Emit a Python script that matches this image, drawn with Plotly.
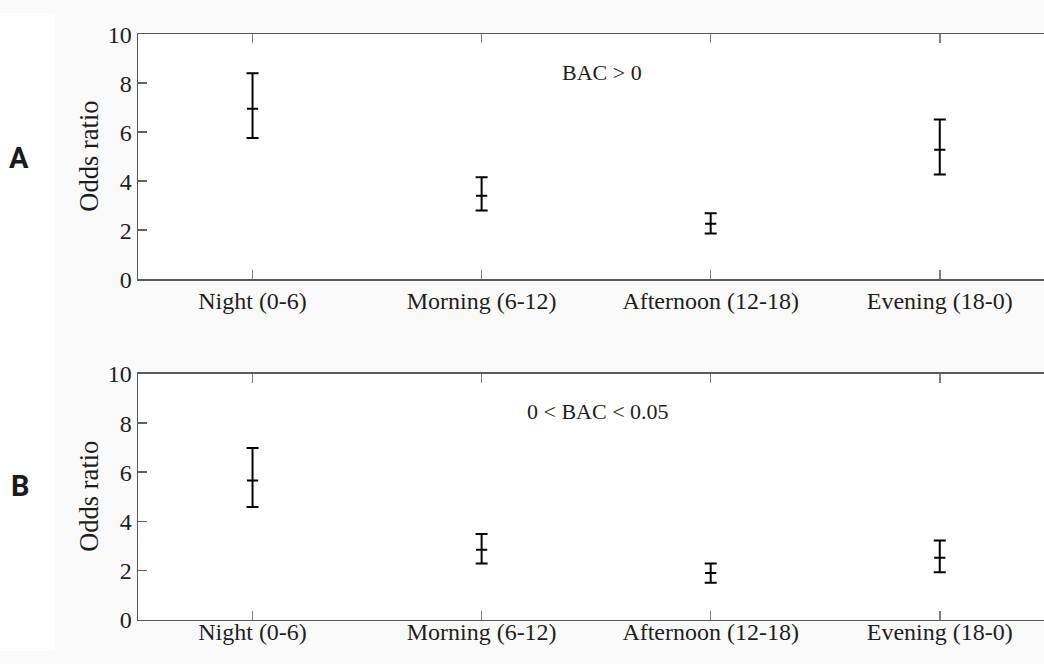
import plotly.graph_objects as go

categories = ["Night (0-6)", "Morning (6-12)", "Afternoon (12-18)", "Evening (18-0)"]

# Panel A: BAC > 0
a_mean = [6.95, 3.40, 2.26, 5.28]
a_low = [5.76, 2.80, 1.86, 4.27]
a_high = [8.40, 4.16, 2.69, 6.52]

# Panel B: 0 < BAC < 0.05
b_mean = [5.66, 2.84, 1.90, 2.52]
b_low = [4.58, 2.28, 1.50, 1.93]
b_high = [6.99, 3.48, 2.28, 3.22]

y_ticks = [0, 2, 4, 6, 8, 10]

W, H = 1044, 664

fig = go.Figure()


def add_panel(mean, low, high, xa, ya):
    fig.add_trace(go.Scatter(
        x=categories, y=mean, mode="markers",
        xaxis=xa, yaxis=ya,
        marker=dict(symbol="line-ew", size=8, color="black",
                    line=dict(color="black", width=2)),
        error_y=dict(type="data", symmetric=False,
                     array=[h - m for h, m in zip(high, mean)],
                     arrayminus=[m - l for m, l in zip(mean, low)],
                     color="black", thickness=2, width=6),
        showlegend=False, hoverinfo="skip",
    ))


add_panel(a_mean, a_low, a_high, "x", "y")
add_panel(b_mean, b_low, b_high, "x2", "y2")

serif = "Liberation Serif, Times New Roman, serif"
sans = "Roboto, Arial, sans-serif"
tick_font = dict(family=serif, size=24, color="#1e1e1e")

xcommon = dict(
    type="category", range=[-0.5, 3.455], domain=[138 / W, 1.0],
    showline=True, linecolor="#5a5a5a", linewidth=1.5,
    mirror="ticks", ticks="inside", ticklen=9, tickwidth=1.5, tickcolor="#808080",
    tickfont=tick_font, showgrid=False, zeroline=False, fixedrange=True,
)
ycommon = dict(
    range=[0, 10], tickvals=y_ticks,
    showline=True, linecolor="#5a5a5a", linewidth=1.5,
    ticks="inside", ticklen=9, tickwidth=1.5, tickcolor="#606060",
    tickfont=tick_font, showgrid=False, zeroline=False, fixedrange=True,
)

fig.update_layout(
    width=W, height=H,
    margin=dict(l=0, r=0, t=0, b=0),
    paper_bgcolor="#fafafa", plot_bgcolor="white",
    xaxis=dict(xcommon, anchor="y"),
    yaxis=dict(ycommon, anchor="x", domain=[(H - 277) / H, (H - 22) / H]),
    # bottom labels kept fully inside the window
    xaxis2=dict(xcommon, anchor="y2", ticklabelstandoff=-10),
    yaxis2=dict(ycommon, anchor="x2", domain=[(H - 631.3) / H, (H - 375.7) / H]),
    shapes=[dict(type="rect", xref="paper", yref="paper", x0=0, x1=55 / W, y0=0, y1=1,
                 fillcolor="white", line=dict(width=0), layer="below")],
)

annos = [
    dict(text="BAC &gt; 0", x=601.7 / W, y=1 - 62 / H, size=22, family=serif, angle=0, color="#1e1e1e"),
    dict(text="0 &lt; BAC &lt; 0.05", x=598.3 / W, y=1 - 415 / H, size=22, family=serif, angle=0, color="#1e1e1e"),
    dict(text="Odds ratio", x=89 / W, y=1 - 149.5 / H, size=26.5, family=serif, angle=-90, color="#1e1e1e"),
    dict(text="Odds ratio", x=89 / W, y=1 - 503.5 / H, size=26.5, family=serif, angle=-90, color="#1e1e1e"),
    dict(text="<b>A</b>", x=19 / W, y=1 - 151 / H, size=29, family=sans, angle=0, color="#1a1a1a"),
    dict(text="<b>B</b>", x=20 / W, y=1 - 492 / H, size=29, family=sans, angle=0, color="#1a1a1a"),
]
for a in annos:
    fig.add_annotation(text=a["text"], x=a["x"], y=a["y"], xref="paper", yref="paper",
                       xanchor="center", yanchor="middle", showarrow=False,
                       textangle=a["angle"], font=dict(family=a["family"], size=a["size"], color=a["color"]))

# Place the graph at the window's top-left corner and keep the page exactly window-sized.
pin = (
    "var de=document.documentElement, b=document.body;"
    "de.style.margin='0';de.style.width='1044px';de.style.height='664px';de.style.overflow='hidden';"
    "b.style.margin='0';b.style.width='1044px';b.style.height='664px';b.style.overflow='hidden';"
    "var d=document.getElementById('{plot_id}');"
    "d.style.position='absolute';d.style.left='0px';d.style.top='0px';d.style.overflow='hidden';"
)
fig.write_html("out.html", post_script=pin, config={"staticPlot": True})
